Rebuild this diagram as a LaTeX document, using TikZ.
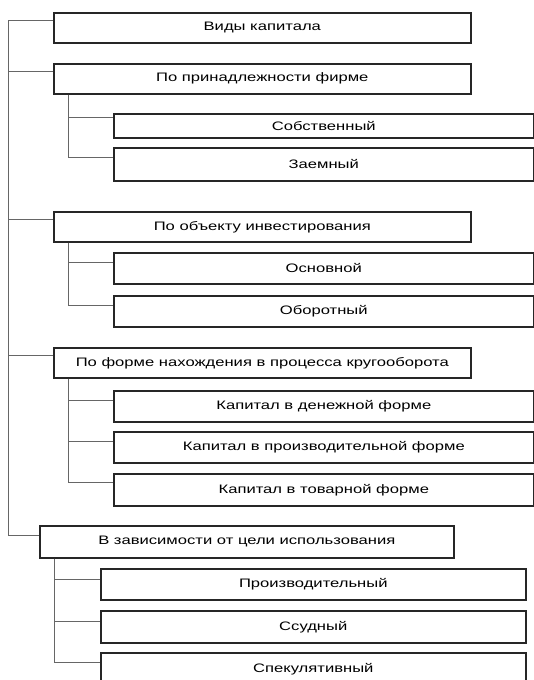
\documentclass[tikz,border=0pt]{standalone}
\usepackage{fontspec}
\setmainfont{Liberation Sans}[FakeStretch=1.35]
\tikzset{
  kindbox/.style={draw=black!85, line width=1.6pt, anchor=north west, inner sep=0pt,
    font=\fontsize{12.3}{14}\selectfont},
  groupbox/.style={kindbox, minimum width=417pt, minimum height=30pt},
  childbox/.style={kindbox, minimum width=420pt, minimum height=31pt},
  lastbox/.style={kindbox, minimum width=425pt, minimum height=31pt},
  link/.style={draw=black!60, line width=0.8pt}
}

\begin{document}
\begin{tikzpicture}[x=1pt, y=-1pt]
  \useasboundingbox (0,0) rectangle (534,680);
  \clip (0,0) rectangle (534,680);

  % top level
  \node[groupbox] (root) at (53,12) {Виды капитала};
  \node[groupbox] (own) at (53,63) {По принадлежности фирме};
  \node[groupbox] (obj) at (53,211) {По объекту инвестирования};
  \node[groupbox] (circ) at (53,347) {По форме нахождения в процесса кругооборота};
  \node[kindbox, minimum width=414pt, minimum height=32pt] (aim) at (39,525) {В зависимости от цели использования};

  % children
  \node[childbox, minimum height=24pt] (own1) at (113,113) {Собственный};
  \node[childbox, minimum height=33pt] (own2) at (113,147) {Заемный};
  \node[childbox] (obj1) at (113,252) {Основной};
  \node[childbox] (obj2) at (113,295) {Оборотный};
  \node[childbox] (circ1) at (113,390) {Капитал в денежной форме};
  \node[childbox] (circ2) at (113,431) {Капитал в производительной форме};
  \node[childbox, minimum height=32pt] (circ3) at (113,473) {Капитал в товарной форме};
  \node[lastbox] (aim1) at (100,568) {Производительный};
  \node[lastbox, minimum height=32pt] (aim2) at (100,610) {Ссудный};
  \node[lastbox, minimum height=32pt] (aim3) at (100,652) {Спекулятивный};

  % main trunk
  \coordinate (trunk) at (8.5,20);
  \coordinate (trunkend) at (8.5,535);
  \draw[link] ([yshift=-8pt]root.north west) -- (trunk) -- (trunkend) -- (aim.west |- trunkend);
  \foreach \g in {own,obj,circ}
    \draw[link] ([yshift=-8pt]\g.north west) -- ([yshift=-8pt]\g.north west -| trunk);

  % sub trunks
  \draw[link] ([xshift=15pt]own.south west) |- ([yshift=-10pt]own2.north west);
  \draw[link] ([xshift=15pt]own.south west) |- ([yshift=-4pt]own1.north west);
  \draw[link] ([xshift=15pt]obj.south west) |- ([yshift=-10pt]obj2.north west);
  \draw[link] ([xshift=15pt]obj.south west) |- ([yshift=-10pt]obj1.north west);
  \draw[link] ([xshift=15pt]circ.south west) |- ([yshift=-9pt]circ3.north west);
  \foreach \c in {circ1,circ2}
    \draw[link] ([xshift=15pt]circ.south west) |- ([yshift=-10pt]\c.north west);
  \draw[link] ([xshift=15pt]aim.south west) |- ([yshift=-10pt]aim3.north west);
  \foreach \c in {aim1,aim2}
    \draw[link] ([xshift=15pt]aim.south west) |- ([yshift=-11pt]\c.north west);
\end{tikzpicture}
\end{document}
